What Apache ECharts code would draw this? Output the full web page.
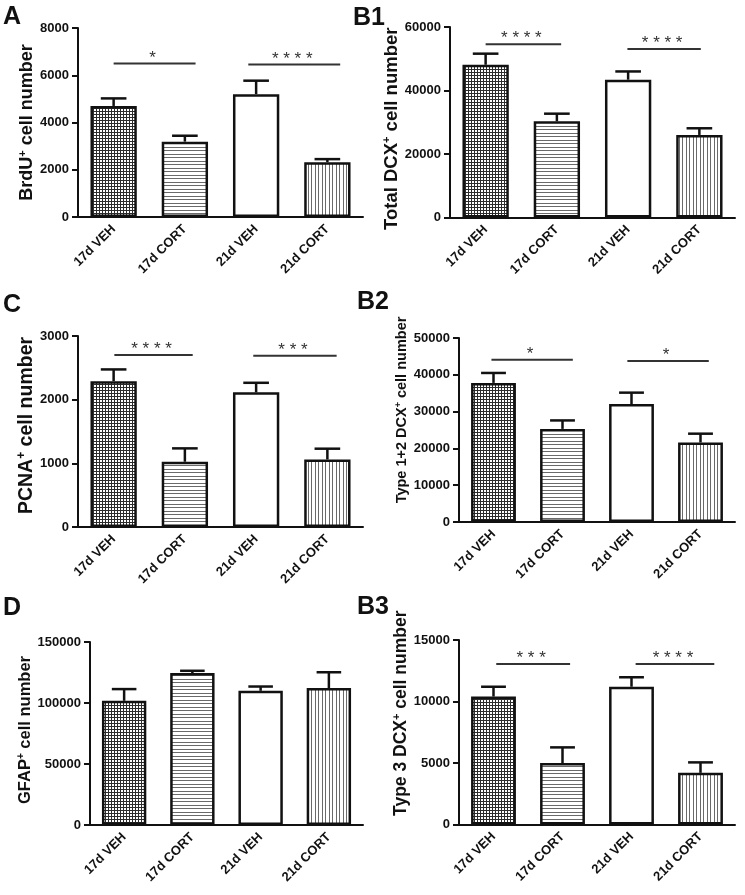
<!DOCTYPE html>
<html><head><meta charset="utf-8">
<script src="https://cdn.jsdelivr.net/npm/echarts@6/dist/echarts.min.js"></script>
<style>html,body{margin:0;padding:0;background:#fff}#c{width:745px;height:895px}</style>
</head><body><div id="c"></div>
<script>
// ---------- data ----------
const categories = ['17d VEH', '17d CORT', '21d VEH', '21d CORT'];

const aMean = [4700, 3190, 5200, 2320];
const aErr = [320, 250, 570, 130];
const aSig = [[0.0, 1.15, 6500, '*'], [1.89, 3.18, 6460, '* * * *']];

const b1Mean = [48100, 30300, 43400, 26000];
const b1Err = [3500, 2400, 2600, 2100];
const b1Sig = [[0.0, 1.06, 54550, '* * * *'], [1.99, 3.02, 53080, '* * * *']];

const cMean = [2290, 1025, 2115, 1060];
const cErr = [185, 210, 150, 170];
const cSig = [[0.01, 1.11, 2700, '* * * *'], [1.96, 3.13, 2690, '* * *']];

const b2Mean = [37800, 25300, 32050, 21600];
const b2Err = [2700, 2300, 3100, 2400];
const b2Sig = [[-0.03, 1.15, 44100, '*'], [1.94, 3.12, 43750, '*']];

const dMean = [101800, 124500, 110000, 112200];
const dErr = [9600, 1900, 3500, 13000];
const dSig = [];

const b3Mean = [10400, 5000, 11200, 4200];
const b3Err = [800, 1270, 770, 850];
const b3Sig = [[0.04, 1.11, 13050, '* * *'], [2.06, 3.2, 13050, '* * * *']];

const yMax = [8000, 60000, 3000, 50000, 150000, 15000];
const yInterval = [2000, 20000, 1000, 10000, 50000, 5000];
const panelLetters = ['A', 'B1', 'C', 'B2', 'D', 'B3'];
const yTitles = [['BrdU', ' cell number'], ['Total DCX', ' cell number'], ['PCNA', ' cell number'],
  ['Type 1+2 DCX', ' cell number'], ['GFAP', ' cell number'], ['Type 3 DCX', ' cell number']];

// ---------- layout / style ----------
const FONT = 'Liberation Sans, Arial, Helvetica, sans-serif';
const grids = [
  {left: 78, top: 28, width: 285, height: 189},
  {left: 450, top: 27, width: 285, height: 190.5},
  {left: 78, top: 336, width: 285, height: 191},
  {left: 459, top: 338, width: 276, height: 184},
  {left: 90, top: 642, width: 273, height: 183},
  {left: 459, top: 640, width: 276, height: 184.5}
];
const titleFont = [18, 18.5, 19.5, 14.5, 16.5, 17.5];
const titleGap = [40, 35, 40, 44, 38, 42];
const titlePad = [[0,0,0,0],[0,13,0,0],[0,0,0,12],[0,0,0,40],[0,0,0,7],[0,0,0,38]];
const letterPos = [[3, 10], [353, 11], [3, 298], [357, 295], [3, 601], [357, 600]];

function makePattern(kind) {
  const c = document.createElement('canvas');
  const ctx = c.getContext('2d');
  if (kind === 'check') {
    c.width = 3; c.height = 3;
    ctx.fillStyle = '#fff'; ctx.fillRect(0, 0, 3, 3);
    ctx.fillStyle = '#2c2c2c'; ctx.fillRect(0, 0, 3, 1); ctx.fillRect(0, 0, 1, 3);
  } else if (kind === 'h') {
    c.width = 4; c.height = 7;
    ctx.fillStyle = '#fff'; ctx.fillRect(0, 0, 4, 7);
    ctx.fillStyle = '#6a6a6a'; ctx.fillRect(0, 0, 4, 1); ctx.fillRect(0, 3, 4, 1);
  } else if (kind === 'v') {
    c.width = 7; c.height = 4;
    ctx.fillStyle = '#fff'; ctx.fillRect(0, 0, 7, 4);
    ctx.fillStyle = '#6a6a6a'; ctx.fillRect(0, 0, 1, 4); ctx.fillRect(3, 0, 1, 4);
  }
  return {image: c, repeat: 'repeat'};
}
const fills = [makePattern('check'), makePattern('h'), '#ffffff', makePattern('v')];

const means = [aMean, b1Mean, cMean, b2Mean, dMean, b3Mean];
const errs = [aErr, b1Err, cErr, b2Err, dErr, b3Err];
const sigs = [aSig, b1Sig, cSig, b2Sig, dSig, b3Sig];

const option = {
  animation: false,
  backgroundColor: '#fff',
  grid: [], xAxis: [], yAxis: [], series: [], graphic: []
};

grids.forEach((g, i) => {
  option.grid.push(Object.assign({containLabel: false}, g));
  option.xAxis.push({
    type: 'category', gridIndex: i, data: categories,
    axisLine: {onZero: false, lineStyle: {color: '#111', width: 2}},
    axisTick: {alignWithLabel: true, length: 6, lineStyle: {color: '#111', width: 2}},
    axisLabel: {rotate: 45, interval: 0, margin: 10, color: '#111', fontSize: 13, fontWeight: 'bold', fontFamily: FONT},
    splitLine: {show: false}
  });
  option.xAxis.push({type: 'value', gridIndex: i, min: -0.5, max: 3.5, show: false});
  const tf = titleFont[i];
  option.yAxis.push({
    type: 'value', gridIndex: i, min: 0, max: yMax[i], interval: yInterval[i],
    name: '{b|' + yTitles[i][0] + '}{s|+}{b|' + yTitles[i][1] + '}',
    nameLocation: 'middle', nameGap: titleGap[i], nameRotate: 90,
    nameTextStyle: {
      padding: titlePad[i],
      rich: {
        b: {fontSize: tf, fontWeight: 'bold', fontFamily: FONT, color: '#111'},
        s: {fontSize: Math.round(tf * 0.6), fontWeight: 'bold', fontFamily: FONT, color: '#111', padding: [0, 0, Math.round(tf * 0.45), 0]}
      }
    },
    axisLine: {show: true, onZero: false, lineStyle: {color: '#111', width: 2}},
    axisTick: {show: true, length: 6, lineStyle: {color: '#111', width: 2}},
    axisLabel: {margin: 9, color: '#111', fontSize: 13, fontWeight: 'bold', fontFamily: FONT, formatter: v => String(v)},
    splitLine: {show: false}
  });
  option.series.push({
    type: 'bar', xAxisIndex: 2 * i, yAxisIndex: i, barCategoryGap: '35%',
    data: means[i].map((v, k) => ({value: v, itemStyle: {color: fills[k]}})),
    itemStyle: {borderColor: '#111', borderWidth: 2.5},
    z: 3
  });
  const errData = means[i].map((v, k) => [k, v, errs[i][k]]);
  option.series.push({
    type: 'custom', xAxisIndex: 2 * i, yAxisIndex: i, z: 2,
    data: errData,
    renderItem: function (params, api) {
      const x = api.value(0), m = api.value(1), e = api.value(2);
      const p0 = api.coord([x, m]);
      const p1 = api.coord([x, m + e]);
      const half = api.size([1, 0])[0] * 0.18;
      return {type: 'group', children: [
        {type: 'line', shape: {x1: p0[0], y1: p0[1], x2: p1[0], y2: p1[1]}, style: {stroke: '#111', lineWidth: 2.5}},
        {type: 'line', shape: {x1: p1[0] - half, y1: p1[1], x2: p1[0] + half, y2: p1[1]}, style: {stroke: '#111', lineWidth: 2.5}}
      ]};
    }
  });
  const sd = sigs[i];
  if (sd.length) {
    option.series.push({
      type: 'custom', xAxisIndex: 2 * i + 1, yAxisIndex: i, z: 4,
      data: sd.map(s => [s[0], s[1], s[2]]),
      renderItem: function (params, api) {
        const s = sd[params.dataIndex];
        const a = api.coord([s[0], s[2]]);
        const b = api.coord([s[1], s[2]]);
        return {type: 'group', children: [
          {type: 'line', shape: {x1: a[0], y1: a[1], x2: b[0], y2: b[1]}, style: {stroke: '#333', lineWidth: 2}},
          {type: 'text', style: {text: s[3], x: (a[0] + b[0]) / 2 - 2, y: a[1] + 3, align: 'center', verticalAlign: 'bottom', font: '17px ' + FONT, fill: '#333'}}
        ]};
      }
    });
  }
  option.graphic.push({
    type: 'text', left: letterPos[i][0], top: letterPos[i][1] - 5,
    style: {text: panelLetters[i], font: 'bold 25px ' + FONT, fill: '#111'}
  });
});

const chart = echarts.init(document.getElementById('c'), null, {renderer: 'canvas'});
chart.setOption(option);
</script>
</body></html>
